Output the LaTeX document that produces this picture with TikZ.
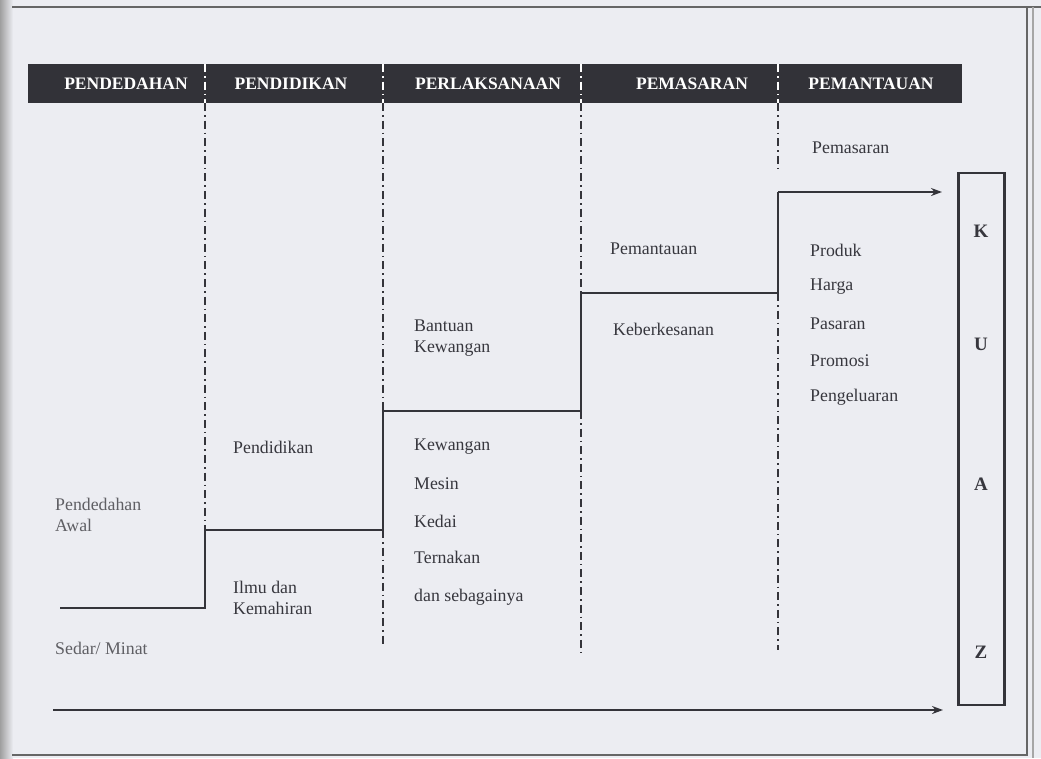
\documentclass[tikz,border=0pt]{standalone}
\usepackage{fontspec}
\setmainfont{Liberation Serif}
\usetikzlibrary{arrows.meta}
\definecolor{paper}{RGB}{236,237,242}
\definecolor{ink}{RGB}{52,52,58}
\definecolor{txt}{RGB}{55,55,62}
\definecolor{faint}{RGB}{95,95,100}
\definecolor{barc}{RGB}{50,50,56}
\tikzset{
  lbl/.style={anchor=west,inner sep=0pt,text=txt,font=\fontsize{17.8}{21}\selectfont,align=left},
  fadelbl/.style={lbl,text=faint},
  head/.style={inner sep=0pt,text=white,font=\fontsize{17.5}{20}\selectfont\bfseries},
  letter/.style={inner sep=0pt,text=txt,font=\fontsize{19}{22}\selectfont\bfseries},
  stepline/.style={draw=ink,line width=1.8pt},
  flowarrow/.style={stepline,-{Stealth[length=11pt,width=8pt]}},
  divline/.style={draw=ink,line width=1.3pt,dash pattern=on 8pt off 4pt on 1.6pt off 4pt},
  divwhite/.style={draw=white,line width=1.3pt,dash pattern=on 8pt off 4pt on 1.6pt off 4pt},
}
\begin{document}
\begin{tikzpicture}[x=1pt,y=-1pt]
\useasboundingbox (0,0) rectangle (1041,758);
\fill[paper] (0,0) rectangle (1041,758);
% scan edge and frame
\shade[left color=gray!75,right color=paper] (0,0) rectangle (13,758);
\draw[draw=gray!80!black,line width=1.6pt] (12,7) -- (1041,7);
\draw[draw=gray!80!black,line width=1.6pt] (12,755) -- (1028,755);
\draw[draw=gray!80!black,line width=1.2pt] (1027,7) -- (1027,755);
\draw[draw=gray!70,line width=1.2pt] (1033,7) -- (1033,758);

% header bar
\fill[barc] (28,64) rectangle (962,103);
\node[head] (h1) at (126,84) {PENDEDAHAN};
\node[head] (h2) at (291,84) {PENDIDIKAN};
\node[head] (h3) at (488,84) {PERLAKSANAAN};
\node[head] (h4) at (692,84) {PEMASARAN};
\node[head] (h5) at (871,84) {PEMANTAUAN};

% coordinates
\coordinate (c1t) at (205,64);  \coordinate (c1b) at (205,103);
\coordinate (c2t) at (383,64);  \coordinate (c2b) at (383,103);
\coordinate (c3t) at (581,64);  \coordinate (c3b) at (581,103);
\coordinate (c4t) at (778,64);  \coordinate (c4b) at (778,103);

\coordinate (s0) at (60,608);
\coordinate (s1) at (205,608);
\coordinate (s2) at (205,530);
\coordinate (s3) at (383,530);
\coordinate (s4) at (383,411);
\coordinate (s5) at (581,411);
\coordinate (s6) at (581,293);
\coordinate (s7) at (778,293);
\coordinate (s8) at (778,192);
\coordinate (s9) at (942,192);

\coordinate (e2) at (383,645);
\coordinate (e3) at (581,652);
\coordinate (e4) at (778,650);
\coordinate (t4) at (778,172);

\coordinate (b0) at (53,710);
\coordinate (b1) at (943,710);

% dividers inside bar (white)
\foreach \c in {1,2,3,4}{\draw[divwhite] (c\c t) -- (c\c b);}
% dividers below bar
\draw[divline] (c1b) -- (s2);
\draw[divline] (c2b) -- (s4);
\draw[divline] (s3) -- (e2);
\draw[divline] (c3b) -- (s6);
\draw[divline] (s5) -- (e3);
\draw[divline] (c4b) -- (t4);
\draw[divline] (s7) -- (e4);

% step line
\draw[stepline] (s0) -- (s1) -- (s2) -- (s3) -- (s4) -- (s5) -- (s6) -- (s7) -- (s8);
\draw[flowarrow] (s8) -- (s9);
\draw[flowarrow] (b0) -- (b1);

% KUAZ box
\node[draw=ink,line width=2.2pt,minimum width=46pt,minimum height=532pt,inner sep=0pt] (box) at (981.5,439) {};
\node[letter] (k) at (981,231) {K};
\node[letter] (u) at (981,344) {U};
\node[letter] (a) at (981,484) {A};
\node[letter] (z) at (981,652) {Z};

% labels
\node[fadelbl] (pa) at (55,515) {Pendedahan\\Awal};
\node[fadelbl] (sm) at (55,648) {Sedar/ Minat};
\node[lbl] (pd) at (233,447) {Pendidikan};
\node[lbl] (ik) at (233,598) {Ilmu dan\\Kemahiran};
\node[lbl] (bk) at (414,338) {Bantuan\\Kewangan};
\node[lbl] (kw) at (414,447) {Kewangan};
\node[lbl] (ms) at (414,484) {Mesin};
\node[lbl] (kd) at (414,521) {Kedai};
\node[lbl] (tn) at (414,557) {Ternakan};
\node[lbl] (ds) at (414,597) {dan sebagainya};
\node[lbl] (pm) at (610,249) {Pemantauan};
\node[lbl] (kb) at (613,329) {Keberkesanan};
\node[lbl] (ps) at (812,148) {Pemasaran};
\node[lbl] (pr) at (810,250) {Produk};
\node[lbl] (hg) at (810,287) {Harga};
\node[lbl] (pn) at (810,324) {Pasaran};
\node[lbl] (po) at (810,361) {Promosi};
\node[lbl] (pg) at (810,397) {Pengeluaran};
\end{tikzpicture}
\end{document}
